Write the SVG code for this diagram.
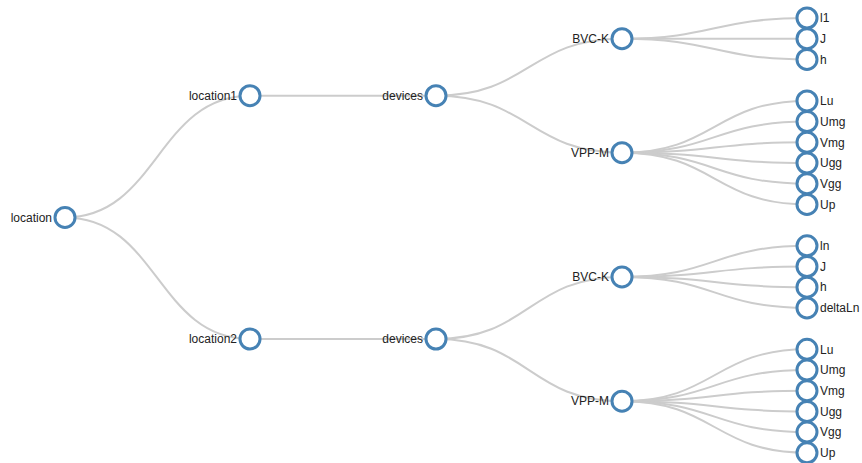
<svg xmlns="http://www.w3.org/2000/svg" width="862" height="463" viewBox="0 0 862 463">
  <style>
    .link { fill: none; stroke: #cccccc; stroke-width: 2; }
    .node circle { fill: #ffffff; stroke: #4682b4; stroke-width: 3; }
    .node text { font-family: "Liberation Sans", Arial, sans-serif; font-size: 12px; fill: #222222; }
    .inner text { text-anchor: end; }
    .leaf text { text-anchor: start; }
  </style>
  <rect width="862" height="463" fill="#ffffff"/>

  <g id="links">
    <!-- root to locations -->
    <path class="link" d="M65,217.4C157.5,217.4 157.5,95.7 250,95.7"/>
    <path class="link" d="M65,217.4C157.5,217.4 157.5,339 250,339"/>
    <!-- locations to devices -->
    <path class="link" d="M250,95.7C343,95.7 343,95.7 436,95.7"/>
    <path class="link" d="M250,339C343,339 343,339 436,339"/>
    <!-- devices to groups -->
    <path class="link" d="M436,95.7C529,95.7 529,38.7 622,38.7"/>
    <path class="link" d="M436,95.7C529,95.7 529,152.7 622,152.7"/>
    <path class="link" d="M436,339C529,339 529,276.9 622,276.9"/>
    <path class="link" d="M436,339C529,339 529,401.2 622,401.2"/>
    <!-- BVC-K (top) leaves -->
    <path class="link" d="M622,38.7C714.5,38.7 714.5,18 807,18"/>
    <path class="link" d="M622,38.7C714.5,38.7 714.5,38.7 807,38.7"/>
    <path class="link" d="M622,38.7C714.5,38.7 714.5,59.4 807,59.4"/>
    <!-- VPP-M (top) leaves -->
    <path class="link" d="M622,152.7C714.5,152.7 714.5,100.9 807,100.9"/>
    <path class="link" d="M622,152.7C714.5,152.7 714.5,121.6 807,121.6"/>
    <path class="link" d="M622,152.7C714.5,152.7 714.5,142.3 807,142.3"/>
    <path class="link" d="M622,152.7C714.5,152.7 714.5,163 807,163"/>
    <path class="link" d="M622,152.7C714.5,152.7 714.5,183.7 807,183.7"/>
    <path class="link" d="M622,152.7C714.5,152.7 714.5,204.4 807,204.4"/>
    <!-- BVC-K (bottom) leaves -->
    <path class="link" d="M622,276.9C714.5,276.9 714.5,245.8 807,245.8"/>
    <path class="link" d="M622,276.9C714.5,276.9 714.5,266.5 807,266.5"/>
    <path class="link" d="M622,276.9C714.5,276.9 714.5,287.2 807,287.2"/>
    <path class="link" d="M622,276.9C714.5,276.9 714.5,307.9 807,307.9"/>
    <!-- VPP-M (bottom) leaves -->
    <path class="link" d="M622,401.2C714.5,401.2 714.5,349.3 807,349.3"/>
    <path class="link" d="M622,401.2C714.5,401.2 714.5,370 807,370"/>
    <path class="link" d="M622,401.2C714.5,401.2 714.5,390.7 807,390.7"/>
    <path class="link" d="M622,401.2C714.5,401.2 714.5,411.4 807,411.4"/>
    <path class="link" d="M622,401.2C714.5,401.2 714.5,432.1 807,432.1"/>
    <path class="link" d="M622,401.2C714.5,401.2 714.5,452.8 807,452.8"/>
  </g>

  <g id="node-location" class="node inner" transform="translate(65,217.4)"><circle r="10"/><text x="-13" dy="0.35em">location</text></g>
  <g id="node-location1" class="node inner" transform="translate(250,95.7)"><circle r="10"/><text x="-13" dy="0.35em">location1</text></g>
  <g id="node-location2" class="node inner" transform="translate(250,339)"><circle r="10"/><text x="-13" dy="0.35em">location2</text></g>
  <g id="node-devices-1" class="node inner" transform="translate(436,95.7)"><circle r="10"/><text x="-13" dy="0.35em">devices</text></g>
  <g id="node-devices-2" class="node inner" transform="translate(436,339)"><circle r="10"/><text x="-13" dy="0.35em">devices</text></g>
  <g id="node-bvck-1" class="node inner" transform="translate(622,38.7)"><circle r="10"/><text x="-13" dy="0.35em">BVC-K</text></g>
  <g id="node-vppm-1" class="node inner" transform="translate(622,152.7)"><circle r="10"/><text x="-13" dy="0.35em">VPP-M</text></g>
  <g id="node-bvck-2" class="node inner" transform="translate(622,276.9)"><circle r="10"/><text x="-13" dy="0.35em">BVC-K</text></g>
  <g id="node-vppm-2" class="node inner" transform="translate(622,401.2)"><circle r="10"/><text x="-13" dy="0.35em">VPP-M</text></g>

  <g id="node-l1" class="node leaf" transform="translate(807,18)"><circle r="10"/><text x="13" dy="0.35em">l1</text></g>
  <g id="node-J-1" class="node leaf" transform="translate(807,38.7)"><circle r="10"/><text x="13" dy="0.35em">J</text></g>
  <g id="node-h-1" class="node leaf" transform="translate(807,59.4)"><circle r="10"/><text x="13" dy="0.35em">h</text></g>

  <g id="node-Lu-1" class="node leaf" transform="translate(807,100.9)"><circle r="10"/><text x="13" dy="0.35em">Lu</text></g>
  <g id="node-Umg-1" class="node leaf" transform="translate(807,121.6)"><circle r="10"/><text x="13" dy="0.35em">Umg</text></g>
  <g id="node-Vmg-1" class="node leaf" transform="translate(807,142.3)"><circle r="10"/><text x="13" dy="0.35em">Vmg</text></g>
  <g id="node-Ugg-1" class="node leaf" transform="translate(807,163)"><circle r="10"/><text x="13" dy="0.35em">Ugg</text></g>
  <g id="node-Vgg-1" class="node leaf" transform="translate(807,183.7)"><circle r="10"/><text x="13" dy="0.35em">Vgg</text></g>
  <g id="node-Up-1" class="node leaf" transform="translate(807,204.4)"><circle r="10"/><text x="13" dy="0.35em">Up</text></g>

  <g id="node-ln" class="node leaf" transform="translate(807,245.8)"><circle r="10"/><text x="13" dy="0.35em">ln</text></g>
  <g id="node-J-2" class="node leaf" transform="translate(807,266.5)"><circle r="10"/><text x="13" dy="0.35em">J</text></g>
  <g id="node-h-2" class="node leaf" transform="translate(807,287.2)"><circle r="10"/><text x="13" dy="0.35em">h</text></g>
  <g id="node-deltaLn" class="node leaf" transform="translate(807,307.9)"><circle r="10"/><text x="13" dy="0.35em">deltaLn</text></g>

  <g id="node-Lu-2" class="node leaf" transform="translate(807,349.3)"><circle r="10"/><text x="13" dy="0.35em">Lu</text></g>
  <g id="node-Umg-2" class="node leaf" transform="translate(807,370)"><circle r="10"/><text x="13" dy="0.35em">Umg</text></g>
  <g id="node-Vmg-2" class="node leaf" transform="translate(807,390.7)"><circle r="10"/><text x="13" dy="0.35em">Vmg</text></g>
  <g id="node-Ugg-2" class="node leaf" transform="translate(807,411.4)"><circle r="10"/><text x="13" dy="0.35em">Ugg</text></g>
  <g id="node-Vgg-2" class="node leaf" transform="translate(807,432.1)"><circle r="10"/><text x="13" dy="0.35em">Vgg</text></g>
  <g id="node-Up-2" class="node leaf" transform="translate(807,452.8)"><circle r="10"/><text x="13" dy="0.35em">Up</text></g>
</svg>
